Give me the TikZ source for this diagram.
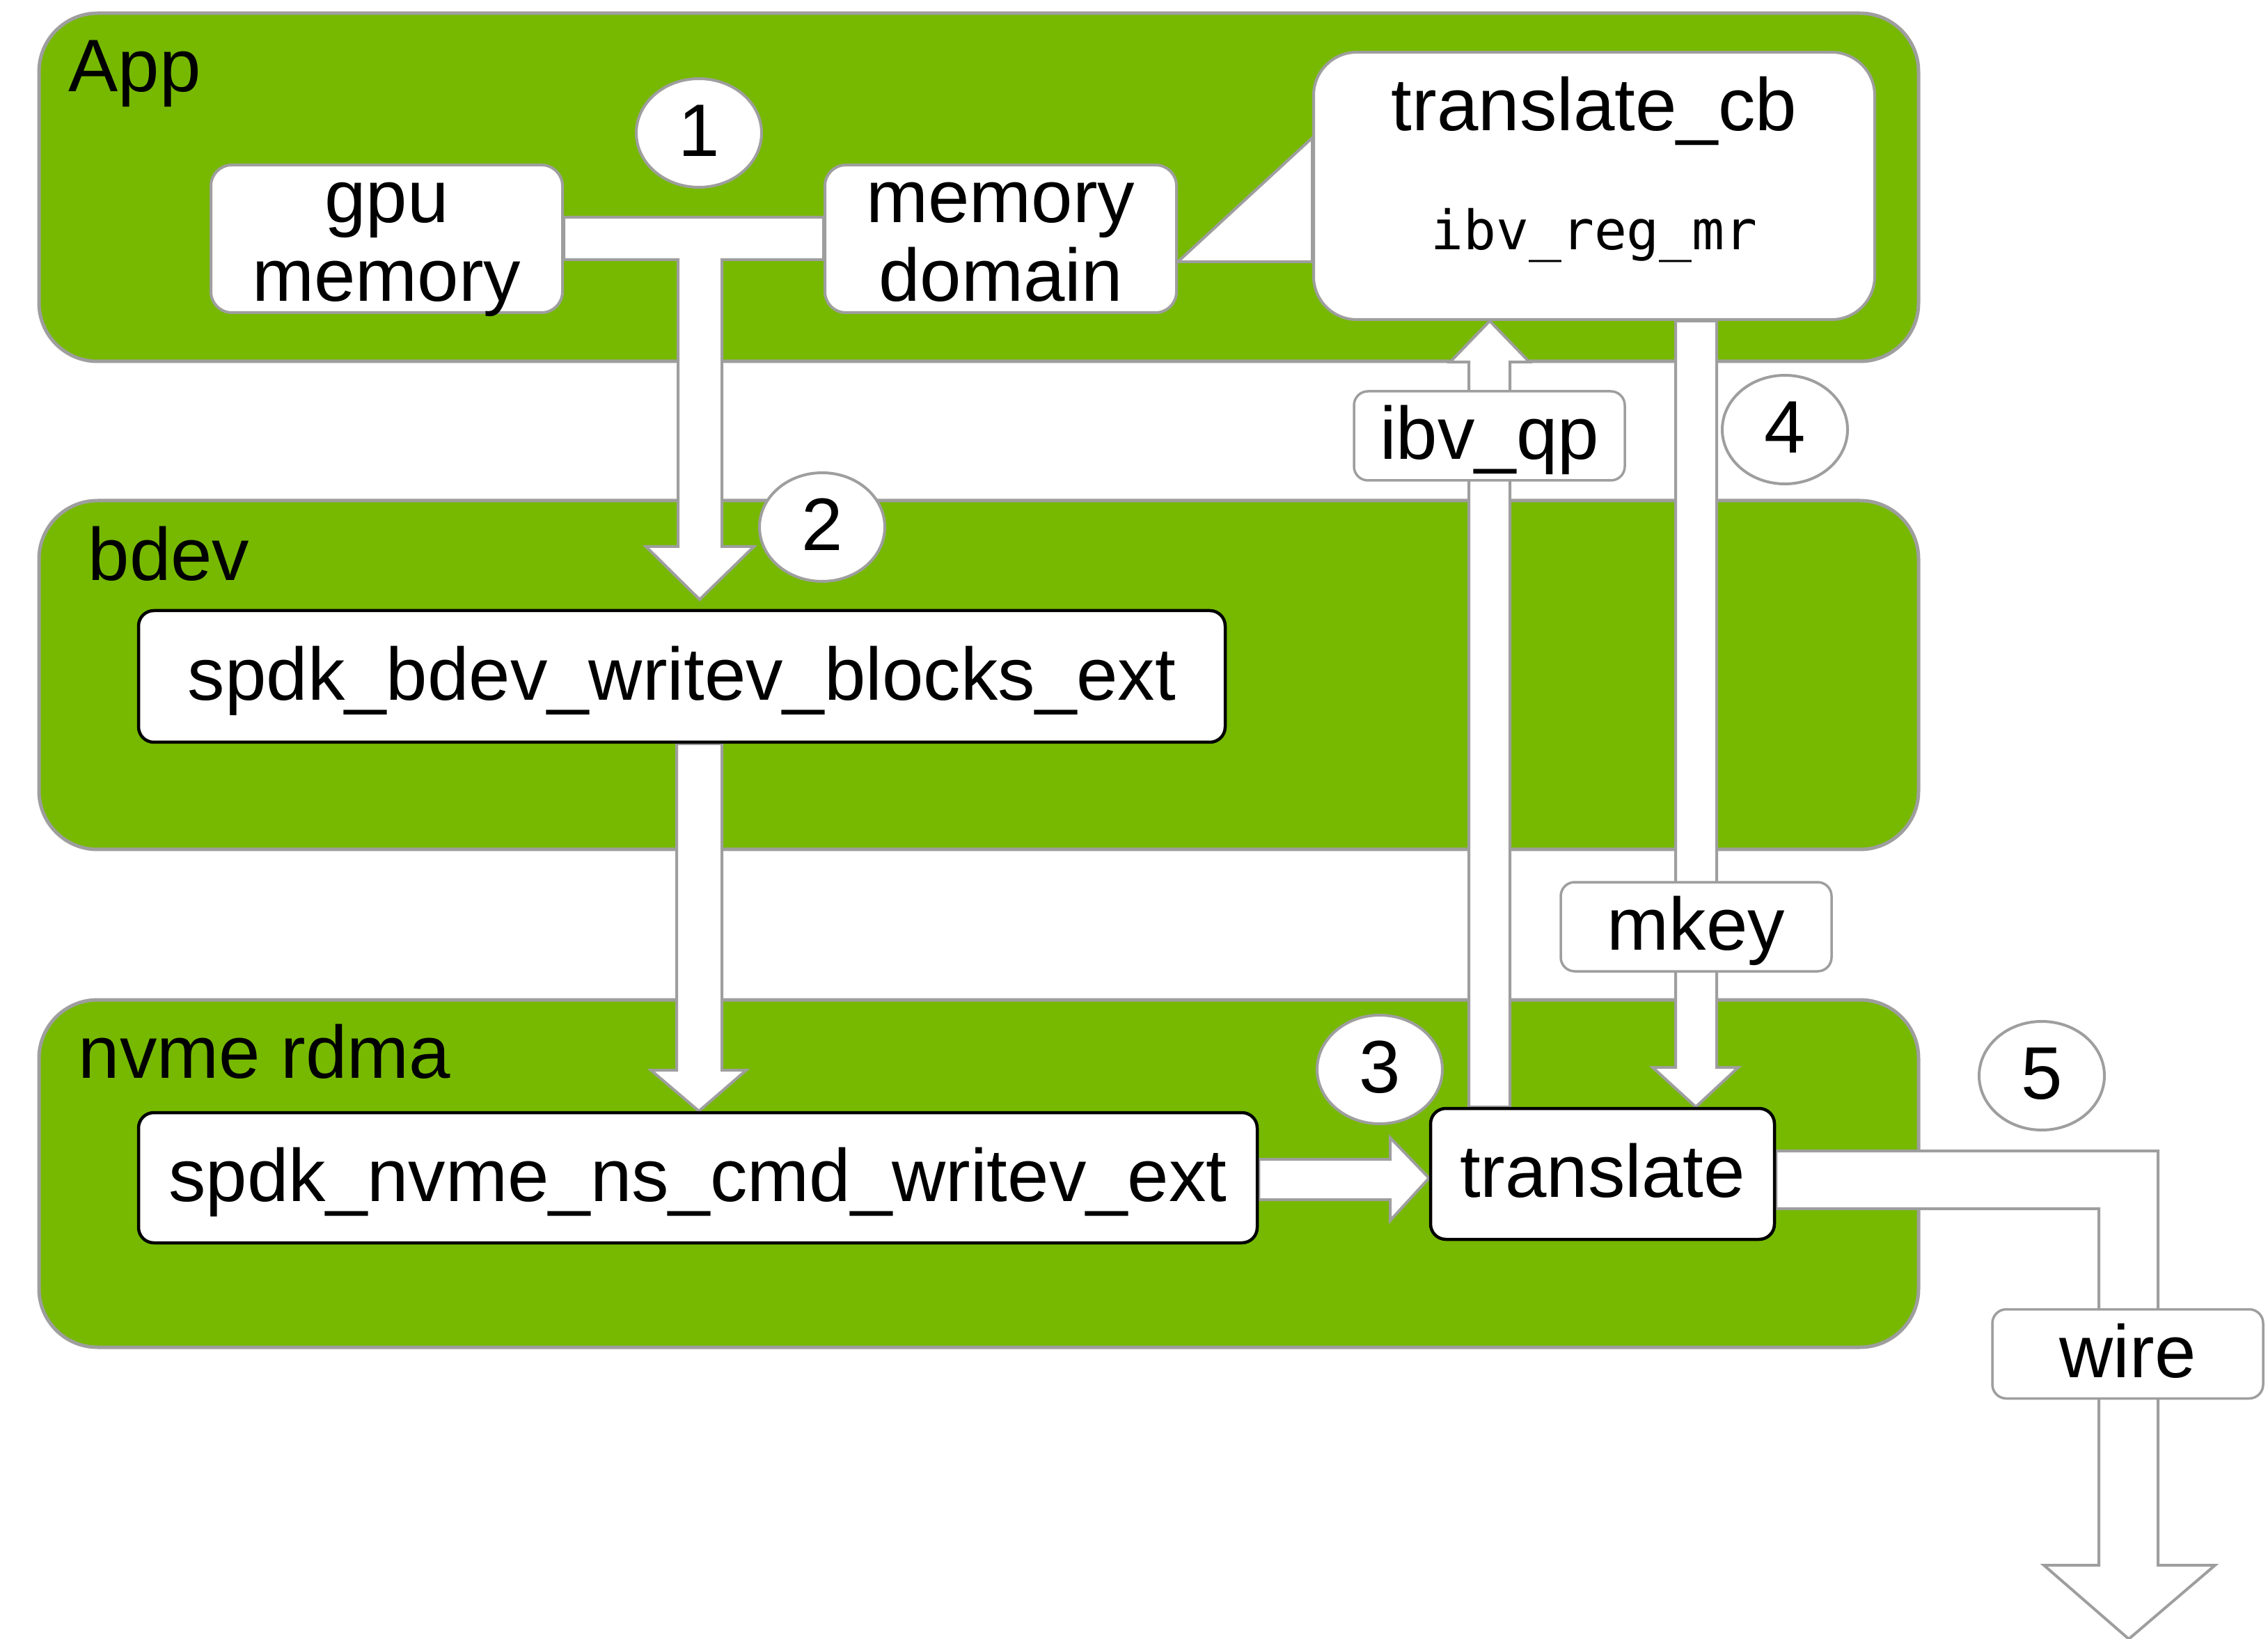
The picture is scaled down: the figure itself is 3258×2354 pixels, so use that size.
\documentclass[tikz,border=0pt]{standalone}
\usepackage{fontspec}
\setmainfont{Liberation Sans}
\newfontfamily\monof{DejaVu Sans Mono}
\usetikzlibrary{shapes.geometric}
\definecolor{nvgreen}{HTML}{76B900}
\definecolor{edgegray}{HTML}{9E9E9E}
\pgfdeclarelayer{back}
\pgfdeclarelayer{mid}
\pgfsetlayers{back,mid,main}
\tikzset{
  layer/.style={draw=edgegray, fill=nvgreen, line width=0.5mm, rounded corners=8.4mm,
    minimum width=270mm, inner sep=0pt},
  graybox/.style={draw=edgegray, fill=white, line width=0.4mm, rounded corners=3mm,
    inner sep=0pt, align=center},
  blackbox/.style={draw=black, fill=white, line width=0.45mm, rounded corners=2.2mm,
    inner sep=0pt, text height=8mm, text depth=1.3mm},
  tagbox/.style={draw=edgegray, fill=white, line width=0.35mm, rounded corners=2mm,
    inner sep=0pt, minimum width=38.9mm, minimum height=12.8mm, text height=8mm, text depth=1.3mm},
  numcirc/.style={ellipse, draw=edgegray, fill=white, line width=0.4mm, inner sep=0pt,
    minimum width=18mm, minimum height=15.6mm, text height=8mm, text depth=1.3mm},
  blockarrow/.style={draw=edgegray, fill=white, line width=0.4mm, line join=miter},
  title/.style={anchor=base west, inner sep=0pt}
}
\begin{document}
\begin{tikzpicture}[x=0.1mm, y=-0.1mm, font=\fontsize{30.4}{32.4}\selectfont]
\useasboundingbox (0,0) rectangle (3258,2354);

% layers
\begin{pgfonlayer}{back}
\node[layer, minimum height=50mm]   (app)  at (1406,269)    {};
\node[layer, minimum height=50.1mm] (bdev) at (1406,969.5)  {};
\node[layer, minimum height=49.9mm] (nvme) at (1406,1685.5) {};
\end{pgfonlayer}

% main boxes
\node[graybox, minimum width=50.5mm, minimum height=21.2mm, text height=19.6mm, text depth=1.6mm]
  (gpu) at (555.5,343) {gpu\\memory};
\node[graybox, minimum width=50.5mm, minimum height=21.2mm, text height=19.6mm, text depth=1.6mm]
  (memdom) at (1437.5,343) {memory\\domain};
\node[graybox, rounded corners=6.2mm, minimum width=80.6mm, minimum height=38.4mm, text height=26mm, text depth=7.6mm]
  (tcb) at (2290,267) {translate\_cb\\[16.5pt]{\monof\fontsize{22.2}{24}\selectfont ibv\_reg\_mr}};
\node[blackbox, minimum width=156.1mm, minimum height=18.9mm] (spdkb) at (979.5,971.5) {spdk\_bdev\_writev\_blocks\_ext};
\node[blackbox, minimum width=160.7mm, minimum height=18.7mm] (spdkn) at (1002.5,1691.5) {spdk\_nvme\_ns\_cmd\_writev\_ext};
\node[blackbox, minimum width=49.4mm, minimum height=18.8mm] (trans) at (2302,1686) {translate};
\coordinate (out) at (3058,2354);

% block arrows
\begin{pgfonlayer}{mid}
% T arrow: gpu memory -- memory domain, down to bdev
\draw[blockarrow] (gpu.east |- 0,312) -- (memdom.west |- 0,312) -- (memdom.west |- 0,373)
  -- (1037,373) -- (1037,785) -- (1083,785) -- (1005,861) -- (928,785) -- (974,785)
  -- (974,373) -- (gpu.east |- 0,373) -- cycle;
% bdev -> nvme
\draw[blockarrow] (972,0 |- spdkb.south) -- (972,1537) -- (935,1537) -- (1004,0 |- spdkn.north)
  -- (1072,1537) -- (1037,1537) -- (1037,0 |- spdkb.south) -- cycle;
% nvme cmd -> translate
\draw[blockarrow] (spdkn.east |- 0,1665) -- (1997,1665) -- (1997,1634) -- (trans.west |- 0,1692)
  -- (1997,1753) -- (1997,1723) -- (spdkn.east |- 0,1723) -- cycle;
% translate -> translate_cb (ibv_qp)
\draw[blockarrow] (2110,0 |- trans.north) -- (2110,520) -- (2083,520) -- (2140,0 |- tcb.south)
  -- (2197,520) -- (2169,520) -- (2169,0 |- trans.north) -- cycle;
% translate_cb -> translate (mkey)
\draw[blockarrow] (2407,0 |- tcb.south) -- (2407,1533) -- (2374,1533) -- (2436,0 |- trans.north)
  -- (2497,1533) -- (2466,1533) -- (2466,0 |- tcb.south) -- cycle;
% translate -> wire
\draw[blockarrow] (trans.east |- 0,1653) -- (3100,1653) -- (3100,2248) -- (3182,2248) -- (out)
  -- (2936,2248) -- (3015,2248) -- (3015,1736) -- (trans.east |- 0,1736) -- cycle;
% callout triangle memory domain -> translate_cb
\draw[blockarrow] (memdom.east |- 0,376) -- (tcb.west |- 0,198) -- (tcb.west |- 0,376) -- cycle;
\end{pgfonlayer}

% tags on arrows
\node[tagbox] (ibvqp) at (2139.5,626)  {ibv\_qp};
\node[tagbox] (mkey)  at (2436.5,1331) {mkey};
\node[tagbox] (wire)  at (3056.5,1944.5) {wire};

% step numbers
\node[numcirc] (n1) at (1004,191)  {1};
\node[numcirc] (n2) at (1181,757)  {2};
\node[numcirc] (n3) at (1982,1536) {3};
\node[numcirc] (n4) at (2564,617)  {4};
\node[numcirc] (n5) at (2933,1545) {5};

% layer titles
\node[title] (tapp)  at (98,132)   {App};
\node[title] (tbdev) at (126,834)  {bdev};
\node[title] (tnvme) at (112,1548) {nvme rdma};
\end{tikzpicture}
\end{document}
